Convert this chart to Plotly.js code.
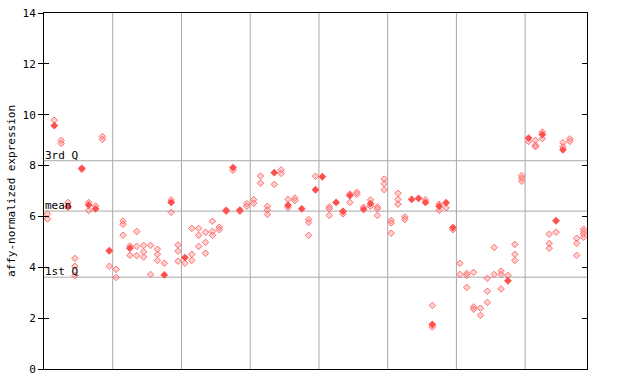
<!DOCTYPE html>
<html>
<head>
<meta charset="utf-8">
<script src="https://cdn.plot.ly/plotly-3.0.1.min.js"></script>
<style>html,body{margin:0;padding:0;background:#fff;}#chart{width:640px;height:384px;}</style>
</head>
<body>
<div id="chart"></div>
<script>
// sample index (0..78) and expression value for each replicate
const otherIdx = [0,0,1,2,2,3,4,4,4,5,6,6,7,8,8,9,10,10,11,11,11,12,12,13,13,13,14,14,14,15,15,16,16,16,17,18,18,19,19,19,20,21,21,21,22,22,22,23,23,23,24,24,24,25,25,26,27,28,29,29,30,30,31,31,32,32,32,33,34,34,35,35,36,36,38,38,38,39,41,41,41,43,44,44,45,45,46,47,47,48,48,48,49,49,49,50,50,50,51,51,51,52,52,55,56,56,57,57,58,59,60,60,61,61,61,62,62,62,63,63,64,64,64,65,65,66,66,66,67,68,68,68,69,69,69,70,71,71,71,72,72,73,73,73,74,75,75,76,76,77,77,77,78,78,78,78];
const otherVal = [6.1,5.9,9.78,8.99,8.87,6.55,4.35,4.04,3.68,7.85,6.55,6.23,6.41,9.14,9.03,4.04,3.92,3.6,5.82,5.69,5.26,4.84,4.47,5.41,4.82,4.46,4.86,4.61,4.4,4.86,3.72,4.71,4.51,4.27,4.16,6.65,6.16,4.88,4.64,4.24,4.16,5.53,4.51,4.27,5.53,5.26,4.82,5.38,4.98,4.55,5.81,5.41,5.26,5.58,5.48,6.2,7.81,6.2,6.5,6.4,6.66,6.52,7.59,7.31,6.4,6.25,6.08,7.26,7.83,7.69,6.67,6.35,6.72,6.62,5.88,5.76,5.26,7.58,6.38,6.3,6.04,6.1,6.88,6.55,6.95,6.87,6.36,6.65,6.4,6.38,6.3,6.04,7.47,7.29,7.05,5.84,5.74,5.34,6.91,6.67,6.48,5.98,5.88,6.65,2.5,1.65,6.48,6.24,6.34,5.48,4.16,3.72,3.76,3.68,3.21,3.8,2.44,2.35,2.39,2.11,3.57,3.06,2.62,4.78,3.72,3.85,3.72,3.15,3.68,4.9,4.51,4.27,7.6,7.5,7.38,8.95,8.99,8.8,8.74,9.32,9.06,5.3,4.94,4.75,5.38,8.9,8.74,9.05,8.95,5.14,4.94,4.47,5.5,5.4,5.3,5.18];
const markIdx = [1,3,5,6,7,9,12,17,18,20,26,27,28,33,35,37,39,40,42,43,44,46,47,53,54,55,56,57,58,59,67,70,72,74,75];
const markVal = [9.57,6.38,7.89,6.45,6.3,4.65,4.75,3.70,6.55,4.38,6.24,7.92,6.25,7.72,6.44,6.3,7.05,7.56,6.55,6.2,6.82,6.28,6.5,6.67,6.71,6.55,1.75,6.4,6.54,5.56,3.47,9.08,9.22,5.83,8.62];
const groupBounds = [10,20,30,40,50,60,70];
const statNames = ["1st Q","mean","3rd Q"];
const statVals = [3.61,6.21,8.19];
const yTicks = [0,2,4,6,8,10,12,14];
const nSamples = 79;

const F = '"DejaVu Sans Mono", "Liberation Mono", monospace';
const traces = [
  {x: otherIdx.map(i=>i+0.5), y: otherVal, type:'scatter', mode:'markers', hoverinfo:'none',
   marker:{symbol:'diamond', size:5, color:'rgba(255,150,150,0.45)', line:{color:'rgba(255,90,90,0.85)', width:1}}},
  {x: markIdx.map(i=>i+0.5), y: markVal, type:'scatter', mode:'markers', hoverinfo:'none',
   marker:{symbol:'diamond', size:6, color:'#ff5050', line:{width:0}}},
  {x:[0], y:[0], yaxis:'y2', mode:'markers', marker:{opacity:0}, hoverinfo:'none'},
  {x:[0], y:[0], yaxis:'y3', mode:'markers', marker:{opacity:0}, hoverinfo:'none'}
];
const shapes = groupBounds.map(b=>({type:'line', xref:'x', yref:'paper', x0:b, x1:b, y0:0, y1:1, line:{color:'#a8a8a8', width:1}, layer:'below'}))
 .concat(statVals.map(v=>({type:'line', xref:'paper', yref:'y', x0:0, x1:1, y0:v, y1:v, line:{color:'#a8a8a8', width:1}, layer:'below'})));
const annotations = statNames.map((n,k)=>({xref:'paper', yref:'y', x:0, y:statVals[k], xanchor:'left', yanchor:'bottom', text:n, showarrow:false, font:{family:F, size:11, color:'#000'}, xshift:-1, yshift:-3}));
const layout = {
  width:640, height:384, margin:{l:44, r:53, t:13, b:15},
  paper_bgcolor:'#fff', plot_bgcolor:'#fff', showlegend:false,
  xaxis:{range:[0,nSamples], showgrid:false, zeroline:false, showticklabels:false, ticks:'', showline:true, mirror:true, linecolor:'#000', linewidth:1},
  yaxis:{range:[0,14], tickvals:yTicks, ticks:'outside', ticklen:5, tickcolor:'#000', showgrid:false, zeroline:false, showline:true, linecolor:'#000', linewidth:1,
    tickfont:{family:F, size:11, color:'#000'},
    title:{text:'affy-normalized expression', font:{family:F, size:11, color:'#000'}, standoff:4}},
  yaxis2:{range:[0,14], tickvals:yTicks, overlaying:'y', side:'right', ticks:'inside', ticklen:5, tickcolor:'#000', showticklabels:false, showgrid:false, zeroline:false, showline:true, linecolor:'#000'},
  yaxis3:{range:[0,14], tickvals:yTicks, overlaying:'y', side:'left', ticks:'inside', ticklen:5, tickcolor:'#000', showticklabels:false, showgrid:false, zeroline:false, showline:false},
  shapes:shapes, annotations:annotations
};
Plotly.newPlot('chart', traces, layout, {displayModeBar:false, staticPlot:true});
</script>
</body>
</html>
